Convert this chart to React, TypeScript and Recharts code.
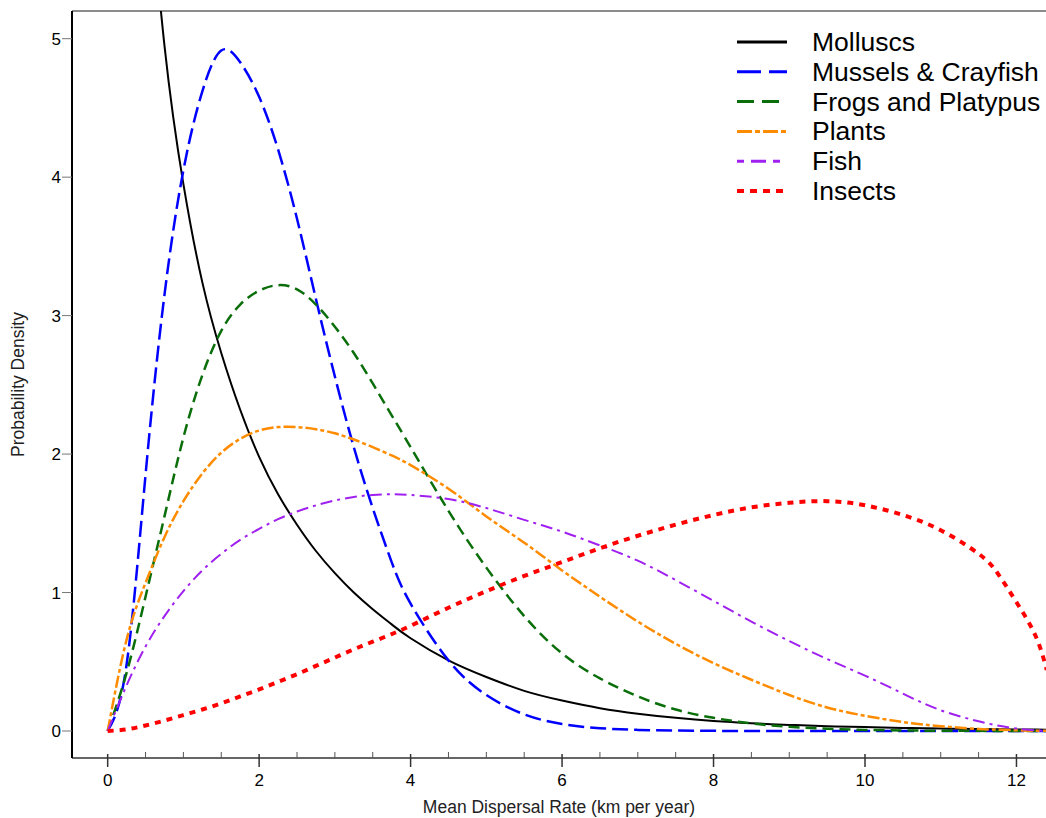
import React from 'react';
import { LineChart, Line, XAxis, YAxis, ReferenceLine, Legend } from 'recharts';

const xValues = [0, 0.25, 0.5, 0.75, 1, 1.25, 1.5, 1.75, 2, 2.25, 2.5, 2.75, 3, 3.25, 3.5, 3.75, 4,
  4.5, 5, 5.5, 6, 6.5, 7, 7.5, 8, 8.5, 9, 9.5, 10, 10.5, 11, 11.5,
  11.75, 12, 12.25, 12.4];

const molluscs = [null, 9.0, 6.6, 4.95, 3.95, 3.24, 2.73, 2.32, 1.98, 1.71, 1.49, 1.30, 1.14, 1.00, 0.88, 0.77, 0.67,
  0.51, 0.39, 0.29, 0.22, 0.165, 0.125, 0.095, 0.072, 0.056, 0.044, 0.035, 0.028, 0.022, 0.018, 0.014,
  0.012, 0.011, 0.010, 0.009];
const mussels = [0, 0.48, 1.85, 3.15, 4.05, 4.62, 4.915, 4.83, 4.58, 4.20, 3.70, 3.12, 2.56, 2.05, 1.61, 1.22, 0.92,
  0.51, 0.26, 0.12, 0.05, 0.02, 0.008, 0.003, 0.001, 0, 0, 0, 0, 0, 0, 0,
  0, 0, 0, 0];
const frogs = [0, 0.42, 0.97, 1.55, 2.12, 2.57, 2.89, 3.08, 3.18, 3.22, 3.19, 3.08, 2.92, 2.73, 2.51, 2.28, 2.05,
  1.59, 1.18, 0.83, 0.56, 0.38, 0.25, 0.155, 0.095, 0.055, 0.03, 0.016, 0.008, 0.004, 0.002, 0.001,
  0, 0, 0, 0];
const plants = [0, 0.66, 1.07, 1.40, 1.66, 1.86, 2.01, 2.11, 2.17, 2.195, 2.195, 2.18, 2.15, 2.105, 2.05, 1.99, 1.92,
  1.75, 1.55, 1.36, 1.16, 0.97, 0.79, 0.63, 0.49, 0.37, 0.26, 0.17, 0.11, 0.065, 0.035, 0.015,
  0.01, 0.005, 0.002, 0.001];
const fish = [0, 0.33, 0.61, 0.83, 1.01, 1.16, 1.28, 1.38, 1.46, 1.53, 1.585, 1.63, 1.665, 1.69, 1.705, 1.71, 1.705,
  1.675, 1.61, 1.525, 1.44, 1.34, 1.23, 1.09, 0.94, 0.79, 0.65, 0.52, 0.40, 0.27, 0.15, 0.07,
  0.04, 0.018, 0.005, 0.001];
const insects = [0, 0.012, 0.04, 0.075, 0.115, 0.155, 0.20, 0.25, 0.30, 0.355, 0.41, 0.47, 0.53, 0.59, 0.645, 0.70, 0.76,
  0.89, 1.01, 1.12, 1.22, 1.32, 1.41, 1.49, 1.56, 1.615, 1.648, 1.66, 1.63, 1.56, 1.45, 1.28,
  1.14, 0.93, 0.69, 0.44];

const xTicks = [0, 0.5, 1, 1.5, 2, 2.5, 3, 3.5, 4, 4.5, 5, 5.5, 6, 6.5, 7, 7.5, 8, 8.5, 9, 9.5, 10, 10.5, 11, 11.5, 12];
const yTicks = [0, 1, 2, 3, 4, 5];

const FONT = '"Liberation Sans", Arial, sans-serif';

const series = [
  { key: 'molluscs', name: 'Molluscs', values: molluscs, color: '#000000', width: 2, dash: undefined, legendDash: undefined, legendWidth: 3 },
  { key: 'mussels', name: 'Mussels & Crayfish', values: mussels, color: '#0000ff', width: 2.5, dash: '16 6', legendDash: '24 8', legendWidth: 3 },
  { key: 'frogs', name: 'Frogs and Platypus', values: frogs, color: '#0a6e0a', width: 2.5, dash: '11 6', legendDash: '17 8', legendWidth: 3 },
  { key: 'plants', name: 'Plants', values: plants, color: '#ff8c00', width: 2.5, dash: '12 3 4 3', legendDash: '15 3 5 3', legendWidth: 3 },
  { key: 'fish', name: 'Fish', values: fish, color: '#a020f0', width: 2, dash: '12 5 3 5', legendDash: '7 7 15 7', legendWidth: 3 },
  { key: 'insects', name: 'Insects', values: insects, color: '#ff0000', width: 4, dash: '6 6', legendDash: '7 6', legendWidth: 4 },
];

const table = xValues.map((x, i) => {
  const row: Record<string, number | null> = { x };
  series.forEach(s => { row[s.key] = s.values[i]; });
  return row;
});

const XTick = (props: any) => {
  const { x, y, payload } = props;
  const v = payload.value;
  const major = Math.abs(v % 2) < 1e-9;
  if (major) {
    return (
      <g>
        <line x1={x} x2={x} y1={y - 4} y2={y + 9} stroke="#333" strokeWidth={1.5} />
        <text x={x} y={y + 28} textAnchor="middle" fontSize={17} fontFamily={FONT} fill="#000">{v}</text>
      </g>
    );
  }
  return <line x1={x} x2={x} y1={y - 6} y2={y} stroke="#555" strokeWidth={1} />;
};

const YLabel = (props: any) => {
  const vb = props.viewBox || { x: 0, y: 0, width: 0, height: 0 };
  const cx = vb.x + 18;
  const cy = vb.y + vb.height / 2;
  return (
    <text x={cx} y={cy} transform={`rotate(-90 ${cx} ${cy})`} textAnchor="middle" dominantBaseline="central"
      fontSize={17.5} fontFamily={FONT} fill="#222">Probability Density</text>
  );
};

const XLabel = (props: any) => {
  const vb = props.viewBox || { x: 0, y: 0, width: 0, height: 0 };
  const cx = vb.x + vb.width / 2;
  const cy = vb.y + 49;
  return (
    <text x={cx} y={cy} textAnchor="middle" dominantBaseline="central"
      fontSize={17.5} fontFamily={FONT} fill="#222">Mean Dispersal Rate (km per year)</text>
  );
};

const LegendContent = () => (
  <svg width={311} height={185}>
    {series.map((s, i) => {
      const cy = 15 + i * 29.8;
      return (
        <g key={s.key}>
          <line x1={2} x2={52} y1={cy} y2={cy} stroke={s.color} strokeWidth={s.legendWidth} strokeDasharray={s.legendDash} />
          <text x={77} y={cy} dominantBaseline="central" fontSize={26.5} fontFamily={FONT} fill="#000">{s.name}</text>
        </g>
      );
    })}
  </svg>
);

export default function App() {
  return (
    <div style={{ position: 'absolute', left: 0, top: 0, width: 1046, height: 818, overflow: 'hidden', background: '#fff' }}>
      <LineChart width={1046} height={818} data={table} margin={{ top: 11, right: 0, bottom: 0, left: 0 }}>
        <XAxis dataKey="x" type="number" domain={[-0.471, 12.39]} ticks={xTicks} interval={0}
          allowDataOverflow height={60} tickSize={0} tickMargin={0} tickLine={false}
          tick={<XTick />} axisLine={{ stroke: '#333', strokeWidth: 1.5 }} label={<XLabel />} />
        <YAxis type="number" domain={[-0.195, 5.2]} ticks={yTicks} interval={0} allowDataOverflow width={72}
          tickSize={10} tickMargin={1}
          tick={{ fontSize: 17, fill: '#000', fontFamily: FONT }}
          tickLine={{ stroke: '#777', strokeWidth: 1 }} axisLine={{ stroke: '#000', strokeWidth: 2 }}
          label={<YLabel />} />
        <ReferenceLine y={5.2} stroke="#666" strokeWidth={1.5} ifOverflow="visible" />
        {series.map(s => (
          <Line key={s.key} dataKey={s.key} name={s.name} type="natural" stroke={s.color} strokeWidth={s.width}
            strokeDasharray={s.dash} dot={false} activeDot={false} isAnimationActive={false} connectNulls={false} />
        ))}
        <Legend layout="vertical" align="center" verticalAlign="middle" content={<LegendContent />}
          wrapperStyle={{ position: 'absolute', left: 735, top: 27, width: 311, height: 185 }} />
      </LineChart>
    </div>
  );
}
